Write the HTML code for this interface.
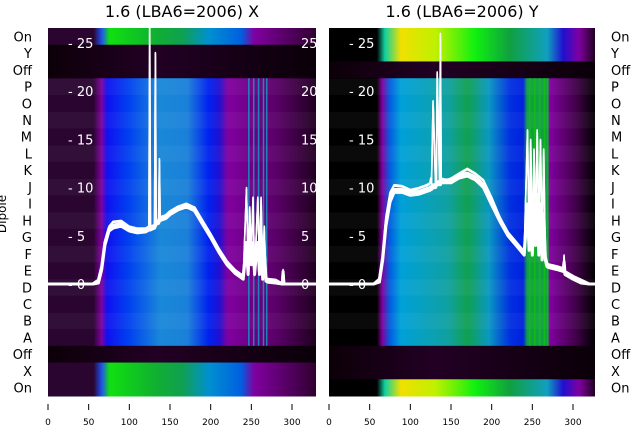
<!DOCTYPE html>
<html><head><meta charset="utf-8"><style>
body{margin:0;background:#fff;width:640px;height:440px;overflow:hidden;font-family:"Liberation Sans","DejaVu Sans",sans-serif}
</style></head><body>
<svg id="c" width="640" height="440" xmlns="http://www.w3.org/2000/svg"
 font-family="DejaVu Sans, Liberation Sans, sans-serif">
<defs>
 <linearGradient id="gLmid" x1="0" x2="1">
  <stop offset="0" stop-color="#2a0530"/><stop offset="0.17" stop-color="#2a0530"/><stop offset="0.2" stop-color="#8000a0"/>
  <stop offset="0.22" stop-color="#1010f0"/><stop offset="0.3" stop-color="#0040f0"/><stop offset="0.42" stop-color="#1a88d8"/>
  <stop offset="0.52" stop-color="#1a80d8"/><stop offset="0.6" stop-color="#0020f0"/><stop offset="0.64" stop-color="#2010d0"/>
  <stop offset="0.67" stop-color="#8000a0"/><stop offset="0.85" stop-color="#5a0068"/><stop offset="1" stop-color="#200020"/>
 </linearGradient>
 <linearGradient id="gLon" x1="0" x2="1">
  <stop offset="0" stop-color="#2a0530"/><stop offset="0.17" stop-color="#2a0530"/><stop offset="0.2" stop-color="#2050f0"/>
  <stop offset="0.23" stop-color="#10e010"/><stop offset="0.4" stop-color="#10b030"/><stop offset="0.5" stop-color="#10a050"/>
  <stop offset="0.6" stop-color="#0090d0"/><stop offset="0.72" stop-color="#0060e0"/><stop offset="0.77" stop-color="#8000a0"/><stop offset="1" stop-color="#300030"/>
 </linearGradient>
 <linearGradient id="gDark" x1="0" x2="1">
  <stop offset="0" stop-color="#0c0008"/><stop offset="0.4" stop-color="#220024"/><stop offset="1" stop-color="#0a0008"/>
 </linearGradient>
 <linearGradient id="gRmid" x1="0" x2="1">
  <stop offset="0" stop-color="#000"/><stop offset="0.18" stop-color="#000"/><stop offset="0.2" stop-color="#8000a0"/>
  <stop offset="0.23" stop-color="#0060e0"/><stop offset="0.27" stop-color="#00a0d8"/><stop offset="0.45" stop-color="#10a0a0"/>
  <stop offset="0.52" stop-color="#10a050"/><stop offset="0.6" stop-color="#0a98c0"/><stop offset="0.68" stop-color="#0030e0"/>
  <stop offset="0.73" stop-color="#0020e0"/><stop offset="0.745" stop-color="#10a040"/><stop offset="0.82" stop-color="#10a040"/><stop offset="0.83" stop-color="#8000a0"/>
  <stop offset="0.93" stop-color="#400048"/><stop offset="1" stop-color="#000"/>
 </linearGradient>
 <linearGradient id="gRon" x1="0" x2="1">
  <stop offset="0" stop-color="#000"/><stop offset="0.18" stop-color="#000"/><stop offset="0.21" stop-color="#10d0a0"/>
  <stop offset="0.27" stop-color="#f0e000"/><stop offset="0.4" stop-color="#c0f000"/><stop offset="0.55" stop-color="#10f010"/>
  <stop offset="0.68" stop-color="#10a040"/><stop offset="0.82" stop-color="#10a0c0"/><stop offset="0.88" stop-color="#2010d0"/>
  <stop offset="0.94" stop-color="#8000a0"/><stop offset="1" stop-color="#200020"/>
 </linearGradient>
</defs>
<text x="182" y="17" font-size="16" text-anchor="middle">1.6 (LBA6=2006) X</text>
<text x="462" y="17" font-size="16" text-anchor="middle">1.6 (LBA6=2006) Y</text>
<g id="panels"></g>
<text x="6" y="214" font-size="12" text-anchor="middle" transform="rotate(-90 6 214)">Dipole</text>
</svg>
<script>
const rowLabels=["On","Y","Off","P","O","N","M","L","K","J","I","H","G","F","E","D","C","B","A","Off","X","On"];
const xTicks=[0,50,100,150,200,250,300];
const yTicks=[0,5,10,15,20,25];
const xs=[0,20,40,55,62,66,70,75,80,90,100,110,120,124,125,126,128,131,132,133,136,137,138,145,150,160,170,180,190,200,210,220,230,240,244,246,248,250,252,254,256,258,260,262,264,266,268,270,280,288,289,290,300,310,320,330];
const xSeriesA=[0,0,0,0,0.2,2,4.5,6,6.5,6.6,6,5.8,5.8,6,27,6,6,6,24,6.5,6.5,13,7,7,7.5,8,8.2,8,6.5,5,3.5,2.2,1.3,0.6,10,2,8,3,9,1,5,9,2,9,1,6,0.5,0.3,0.2,0.1,1.5,0.1,0,0,0,0];
const xSeriesB=[0,0,0,0,0.1,1.5,4,5.5,5.8,6,5.5,5.3,5.4,5.6,5.6,5.6,5.7,5.8,6,6.2,6.3,6.5,6.6,6.8,7.2,7.7,8,7.6,6.2,4.8,3.3,2,1.1,0.5,4,1,5,2,4,1,3,4,1,5,0.5,3,0.3,0.2,0.1,0,1,0,0,0,0,0];
const ySeriesA=[0,0,0,0,0.3,3,7,9.5,10.3,10.2,9.8,10,10.3,10.5,11,10.5,19,10.5,10.5,22,10.5,26,11,10.8,11,11.5,12,11.5,10.8,9,7,5.3,4.3,3.3,16,5,15,4,14,5,16,6,15,4,14,3,2,2,1.8,1.5,3,1.2,0.6,0.2,0,0];
const ySeriesB=[0,0,0,0,0.2,2.5,6,8.5,9.5,9.5,9.2,9.3,9.6,9.7,9.8,9.8,10,10,10.2,10.3,10.3,10.3,10.5,10.5,10.5,11,11.2,10.8,10,8.2,6.5,5,4,3,8,3.5,9,3,8,4,9,3,8,2.5,7,2.5,1.8,1.7,1.5,1.3,2,1,0.5,0.1,0,0];
const svgP=document.getElementById('panels');
const NS='http://www.w3.org/2000/svg';
function mk(t,a){const e=document.createElementNS(NS,t);for(const k in a)e.setAttribute(k,a[k]);return e;}
const yTop=28,yBot=396,rowH=(yBot-yTop)/22;
const panels=[
 {x0:48,x1:316,name:'x',mid:'gLmid',on:'gLon',onRows:[0,20,21],darkRows:[1,2,19],series:[xSeriesA,xSeriesB],tx:68},
 {x0:329,x1:595,name:'y',mid:'gRmid',on:'gRon',onRows:[0,1,21],darkRows:[2,19,20],series:[ySeriesA,ySeriesB],tx:349}
];
panels.forEach(p=>{
 const sx=v=>p.x0+v*(244/300);
 const sy=v=>284-v*(241/25);
 const g=mk('g',{});
 
 
 svgP.appendChild(g);
 for(let r=0;r<22;r++){
  let fill=p.onRows.includes(r)?p.on:(p.darkRows.includes(r)?'gDark':p.mid);
  const rc=mk('rect',{x:p.x0,y:yTop+r*rowH,width:p.x1-p.x0,height:rowH+0.5,fill:'url(#'+fill+')',opacity:(fill===p.mid&&r%2)?0.96:1});
  
  
  g.appendChild(rc);
 }
 [246,252,258,264,268].forEach(v=>{g.appendChild(mk('rect',{x:sx(v),y:yTop+3*rowH,width:1.5,height:rowH*16,fill:p.name==='x'?'#10a0d0':'#10c010',opacity:0.8}));});
 yTicks.forEach(t=>{
  const tx=mk('text',{x:p.tx,y:sy(t)+5,fill:'#fff','font-size':13});
  tx.textContent='- '+t;
  
  
  g.appendChild(tx);
 });
 p.series.forEach((s,i)=>{
  [0,0.3].forEach(off=>{
   const d=s.map((v,k)=>(k?'L':'M')+sx(xs[k]).toFixed(1)+','+sy(v>0.05?v+off*(i?1:-0.4):v).toFixed(1)).join('');
   const pa=mk('path',{d:d,fill:'none',stroke:'#fff','stroke-width':i?3:1.6,'stroke-linejoin':'round'});
   
   
   g.appendChild(pa);
  });
 });
 xTicks.forEach(t=>{
  g.appendChild(mk('line',{x1:sx(t),x2:sx(t),y1:404,y2:410,stroke:'#000','stroke-width':1}));
  const tx=mk('text',{x:sx(t),y:425,'font-size':9,'text-anchor':'middle'});
  tx.textContent=t;
  
  
  g.appendChild(tx);
 });
});
yTicks.forEach(t=>{
 const tx=mk('text',{x:301,y:284-t*241/25+5,fill:'#fff','font-size':13});
 tx.textContent=t;svgP.appendChild(tx);
});
rowLabels.forEach((l,r)=>{
 const y=yTop+(r+0.5)*rowH+5;
 const a=mk('text',{x:32,y:y,'font-size':13,'text-anchor':'end'});a.textContent=l;
 
 
 svgP.appendChild(a);
 const b=mk('text',{x:611,y:y,'font-size':13});b.textContent=l;
 
 
 svgP.appendChild(b);
});
</script>
</body></html>
